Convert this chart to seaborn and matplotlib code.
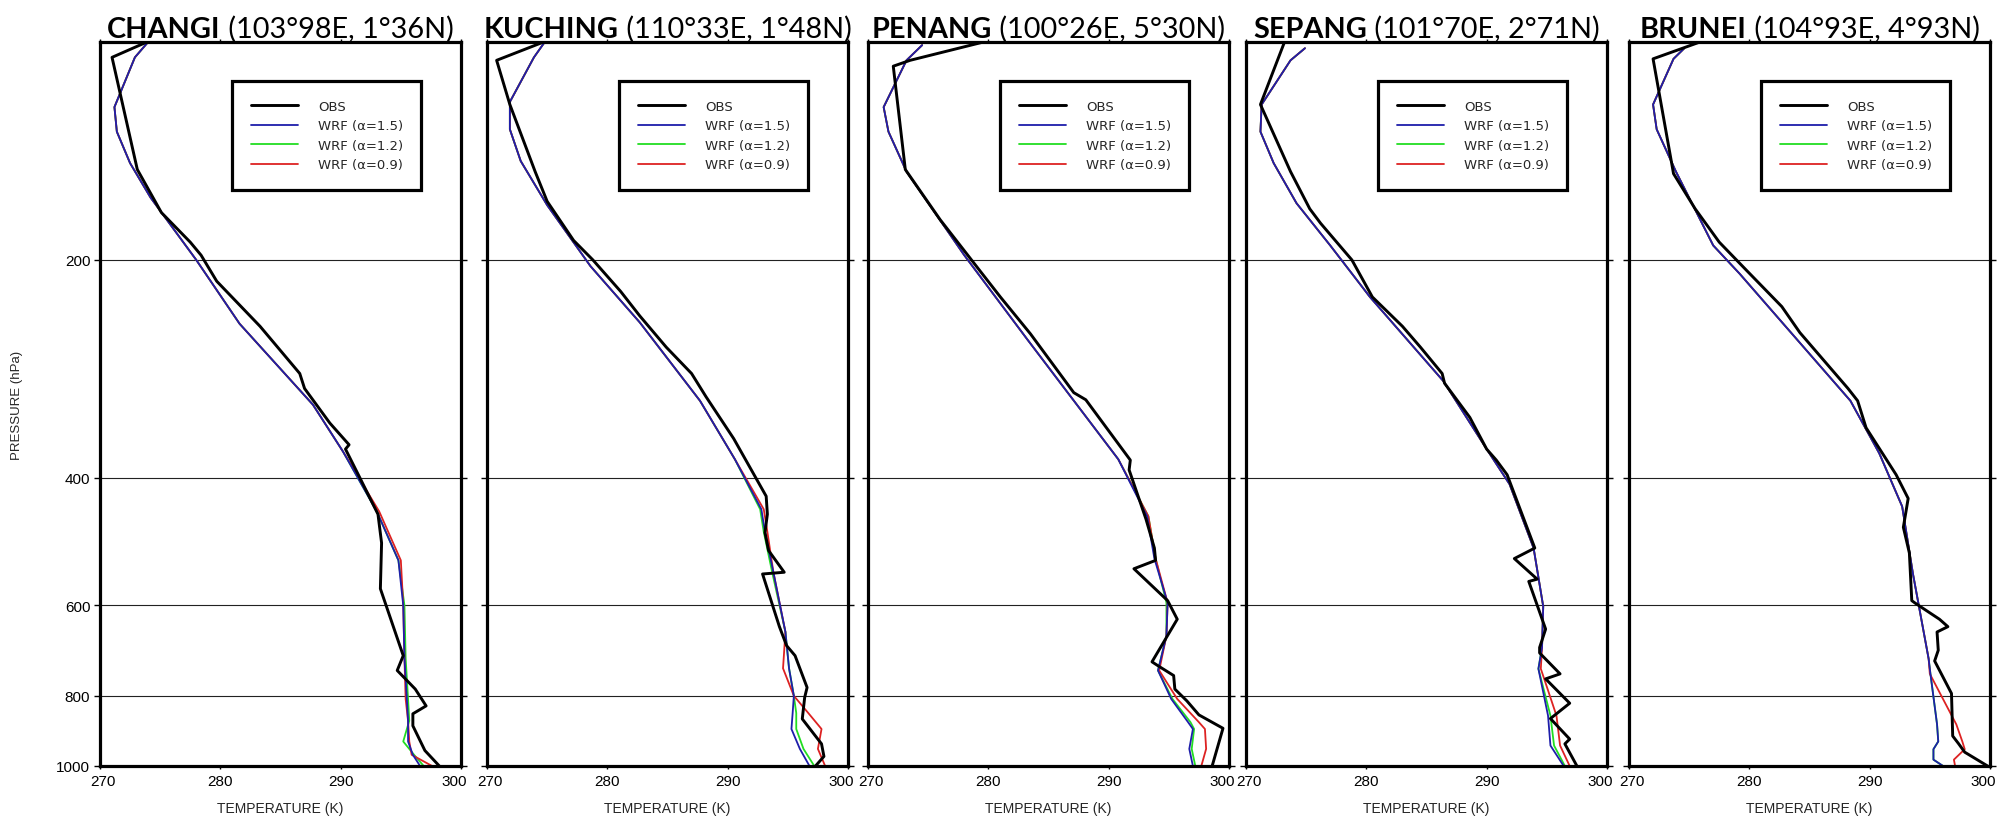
import matplotlib
matplotlib.use("Agg")
import matplotlib.pyplot as plt
import matplotlib.transforms as mtransforms
import seaborn as sns
from matplotlib.ticker import NullLocator
from matplotlib.offsetbox import TextArea, HPacker, AnchoredOffsetbox

# ------------------ Station info ------------------
stations = ["CHANGI", "KUCHING", "PENANG", "SEPANG", "BRUNEI"]
coords = ["(103°98E, 1°36N)", "(110°33E, 1°48N)", "(100°26E, 5°30N)",
          "(101°70E, 2°71N)", "(104°93E, 4°93N)"]

# ------------------ CHANGI ------------------
changi_obs_p = [100, 105, 150, 172, 189, 197, 214, 247, 287, 301, 336, 360, 365, 400, 449, 492,
                569, 704, 738, 783, 826, 847, 880, 952, 1000]
changi_obs_t = [273.9, 271.0, 273.1, 275.1, 277.5, 278.4, 279.7, 283.3, 286.6, 287.0, 289.1, 290.7,
                290.4, 291.6, 293.1, 293.4, 293.3, 295.2, 294.7, 296.2, 297.1, 296.0, 296.0, 297.0, 298.2]
changi_wrf_p = [100, 105, 123, 133, 147, 164, 200, 245, 317, 368, 445, 520, 600, 710, 808, 866,
                925, 965, 1000]
changi_wrf15 = [274.0, 272.9, 271.2, 271.4, 272.5, 274.2, 278.0, 281.6, 287.7, 290.2, 293.0, 294.8,
                295.2, 295.3, 295.5, 295.6, 295.6, 296.0, 296.6]
changi_wrf12 = [274.0, 272.9, 271.2, 271.4, 272.5, 274.2, 278.0, 281.6, 287.7, 290.2, 293.0, 294.8,
                295.3, 295.4, 295.6, 295.7, 295.2, 296.1, 296.9]
changi_wrf09 = [274.0, 272.9, 271.2, 271.4, 272.5, 274.2, 278.0, 281.6, 287.7, 290.2, 293.2, 295.0,
                295.2, 295.3, 295.4, 295.6, 295.7, 295.9, 297.6]

# ------------------ KUCHING ------------------
kuching_obs_p = [100, 106, 122, 151, 166, 188, 200, 221, 239, 264, 287, 309, 353, 424, 449, 476,
                 504, 540, 543, 642, 682, 704, 779, 804, 861, 932, 970, 1000]
kuching_obs_t = [274.7, 270.8, 271.9, 274.0, 275.0, 277.2, 278.8, 281.1, 282.7, 284.9, 287.0, 288.2,
                 290.5, 293.2, 293.3, 293.1, 293.4, 294.7, 292.9, 294.3, 294.9, 295.6, 296.6, 296.4,
                 296.2, 297.8, 298.0, 297.3]
kuching_wrf_p = [100, 105, 121, 132, 146, 168, 204, 244, 313, 377, 442, 475, 540, 653, 733, 800,
                 845, 889, 947, 1000]
kuching_wrf15 = [274.8, 273.9, 271.9, 271.9, 272.8, 275.0, 278.6, 282.7, 287.7, 290.6, 292.8, 293.1,
                 293.8, 294.8, 295.1, 295.5, 295.4, 295.3, 296.0, 296.8]
kuching_wrf12 = [274.8, 273.9, 271.9, 271.9, 272.8, 275.0, 278.6, 282.7, 287.7, 290.6, 292.7, 293.0,
                 293.7, 294.8, 295.1, 295.5, 295.7, 295.7, 296.3, 297.2]
kuching_wrf09 = [274.8, 273.9, 271.9, 271.9, 272.8, 275.0, 278.6, 282.7, 287.7, 290.6, 293.0, 293.3,
                 293.8, 294.8, 294.6, 295.5, 296.7, 297.8, 297.5, 298.1]

# ------------------ PENANG ------------------
penang_obs_p = [100, 106, 108, 150, 176, 207, 225, 253, 305, 312, 378, 390, 456, 500, 520, 534,
                591, 627, 718, 727, 750, 783, 813, 850, 887, 1000]
penang_obs_t = [279.6, 273.5, 272.1, 273.1, 276.0, 279.3, 281.0, 283.5, 287.1, 288.1, 291.8, 291.7,
                293.1, 293.8, 293.9, 292.1, 294.9, 295.7, 293.6, 294.1, 295.4, 295.5, 296.5, 297.5,
                299.5, 298.6]
penang_wrf_p = [101, 106, 123, 133, 151, 197, 257, 377, 452, 517, 595, 661, 738, 808, 870, 889,
                947, 1000]
penang_wrf15 = [274.5, 273.2, 271.3, 271.7, 273.2, 278.0, 283.2, 290.8, 293.2, 293.8, 294.9, 294.8,
                294.1, 295.2, 296.6, 297.0, 296.7, 297.0]
penang_wrf12 = [274.5, 273.2, 271.3, 271.7, 273.2, 278.0, 283.2, 290.8, 293.3, 293.9, 294.8, 294.8,
                294.1, 295.3, 296.8, 297.1, 296.9, 297.2]
penang_wrf09 = [274.5, 273.2, 271.3, 271.7, 273.2, 278.0, 283.2, 290.8, 293.3, 293.9, 294.9, 294.8,
                294.2, 295.7, 297.5, 298.0, 298.1, 297.7]

# ------------------ SEPANG ------------------
sepang_obs_p = [100, 122, 151, 170, 178, 200, 225, 247, 264, 287, 296, 330, 365, 378, 396, 500,
                517, 552, 556, 647, 686, 698, 746, 758, 819, 860, 918, 932, 1000]
sepang_obs_t = [273.2, 271.2, 273.7, 275.3, 276.2, 278.8, 280.5, 283.0, 284.5, 286.3, 286.5, 288.6,
                290.0, 290.8, 291.7, 294.0, 292.3, 294.2, 293.5, 294.9, 294.4, 294.4, 296.1, 294.9,
                296.9, 295.3, 296.9, 296.5, 297.5]
sepang_wrf_p = [102, 106, 122, 133, 147, 167, 191, 225, 294, 365, 408, 500, 602, 686, 734, 852,
                937, 1000]
sepang_wrf15 = [274.9, 273.7, 271.3, 271.2, 272.3, 274.2, 277.0, 280.3, 286.4, 290.0, 291.9, 293.9,
                294.7, 294.6, 294.3, 295.1, 295.3, 296.4]
sepang_wrf12 = [274.9, 273.7, 271.3, 271.2, 272.3, 274.2, 277.0, 280.3, 286.4, 290.0, 291.9, 293.9,
                294.7, 294.6, 294.3, 295.3, 295.6, 296.5]
sepang_wrf09 = [274.9, 273.7, 271.3, 271.2, 272.3, 274.2, 277.0, 280.3, 286.4, 290.0, 291.9, 293.9,
                294.7, 294.6, 294.5, 295.8, 296.1, 296.9]

# ------------------ BRUNEI ------------------
brunei_obs_p = [100, 105.5, 152, 170, 189, 207, 232, 252, 301, 313, 341, 396, 427, 468, 508, 591,
                596, 627, 642, 653, 692, 716, 794, 909, 932, 957, 1000]
brunei_obs_t = [275.9, 272.0, 273.7, 275.5, 277.5, 279.8, 282.7, 284.2, 288.2, 289.0, 289.7, 292.2,
                293.2, 292.8, 293.3, 293.5, 293.8, 295.8, 296.5, 295.6, 295.7, 295.4, 296.8, 296.9,
                297.4, 297.9, 299.8]
brunei_wrf_p = [102, 105.5, 122, 132, 151, 191, 209, 313, 370, 438, 543, 711, 746, 876, 925, 948,
                980, 1000]
brunei_wrf15 = [274.6, 273.7, 272.0, 272.3, 273.9, 277.0, 279.2, 288.4, 290.8, 292.7, 293.6, 294.9,
                295.05, 295.6, 295.7, 295.3, 295.3, 296.1]
brunei_wrf12 = [274.6, 273.7, 272.0, 272.3, 273.9, 277.0, 279.2, 288.4, 290.8, 292.7, 293.6, 294.9,
                295.05, 295.6, 295.7, 295.3, 295.3, 296.1]
brunei_wrf09 = [274.6, 273.7, 272.0, 272.3, 273.9, 277.0, 279.2, 288.4, 290.8, 292.7, 293.6, 294.9,
                295.0, 297.2, 297.7, 297.9, 297.0, 297.1]

obs_p = [changi_obs_p, kuching_obs_p, penang_obs_p, sepang_obs_p, brunei_obs_p]
obs_t = [changi_obs_t, kuching_obs_t, penang_obs_t, sepang_obs_t, brunei_obs_t]
wrf_p = [changi_wrf_p, kuching_wrf_p, penang_wrf_p, sepang_wrf_p, brunei_wrf_p]
wrf15 = [changi_wrf15, kuching_wrf15, penang_wrf15, sepang_wrf15, brunei_wrf15]
wrf12 = [changi_wrf12, kuching_wrf12, penang_wrf12, sepang_wrf12, brunei_wrf12]
wrf09 = [changi_wrf09, kuching_wrf09, penang_wrf09, sepang_wrf09, brunei_wrf09]

p_ticks = [200, 400, 600, 800, 1000]
t_ticks = [270, 280, 290, 300]

# ------------------ Plot ------------------
sns.set_theme(style="white")
plt.rcParams['font.family'] = ['Liberation Sans', 'DejaVu Sans']

BLUE = "#1e1eaa"
GREEN = "#22dd22"
RED = "#dd2222"

fig = plt.figure(figsize=(20.01, 8.2), dpi=100)
lefts = [100, 487, 868, 1246, 1629]

for i in range(5):
    ax = fig.add_axes([lefts[i] / 2001, 53 / 820, 361 / 2001, 724 / 820])

    sns.lineplot(x=wrf12[i], y=wrf_p[i], sort=False, estimator=None, ax=ax,
                 color=GREEN, lw=1.3, label="WRF (α=1.2)")
    sns.lineplot(x=wrf09[i], y=wrf_p[i], sort=False, estimator=None, ax=ax,
                 color=RED, lw=1.3, label="WRF (α=0.9)")
    sns.lineplot(x=wrf15[i], y=wrf_p[i], sort=False, estimator=None, ax=ax,
                 color=BLUE, lw=1.3, label="WRF (α=1.5)")
    sns.lineplot(x=obs_t[i], y=obs_p[i], sort=False, estimator=None, ax=ax,
                 color="black", lw=2.1, label="OBS")

    ax.set_yscale('log')
    ax.set_ylim(1000, 100)
    ax.set_xlim(270, 300)
    ax.yaxis.set_minor_locator(NullLocator())
    ax.set_yticks(p_ticks)
    if i == 0:
        ax.set_yticklabels([str(p) for p in p_ticks])
    else:
        ax.set_yticklabels([])
    ax.set_xticks(t_ticks)
    ax.set_xticklabels([str(t) for t in t_ticks])
    ax.yaxis.grid(True, color="#222222", lw=0.8)
    ax.xaxis.grid(False)
    ax.tick_params(axis='y', left=True, right=True, direction='out', length=4,
                   width=1.0, pad=3, labelsize=11, colors='black')
    ax.tick_params(axis='x', bottom=True, top=True, direction='out', length=2,
                   width=1.0, pad=4, labelsize=11, colors='black')
    for s in ax.spines.values():
        s.set_color('black')
        s.set_linewidth(2.3)
    ax.set_xlabel("TEMPERATURE (K)", fontsize=10, labelpad=9)
    ax.set_ylabel("")

    # nudge the end labels inward so neighbouring panels don't collide
    xlabels = ax.get_xticklabels()
    xlabels[0].set_transform(xlabels[0].get_transform() +
                             mtransforms.ScaledTranslation(3 / 100, 0, fig.dpi_scale_trans))
    xlabels[-1].set_transform(xlabels[-1].get_transform() +
                              mtransforms.ScaledTranslation(-7 / 100, 0, fig.dpi_scale_trans))

    h, l = ax.get_legend_handles_labels()
    order = [l.index(k) for k in ["OBS", "WRF (α=1.5)", "WRF (α=1.2)", "WRF (α=0.9)"]]
    leg = ax.legend([h[k] for k in order], [l[k] for k in order],
                    loc='upper left', bbox_to_anchor=(0.366, 0.946), borderaxespad=0,
                    prop=dict(family='DejaVu Sans', size=9.5),
                    handlelength=3.6, handletextpad=1.5, labelspacing=0.5,
                    borderpad=1.4, frameon=True, fancybox=False, framealpha=1)
    leg.get_frame().set_edgecolor('black')
    leg.get_frame().set_linewidth(2.3)

    # title: bold station name + regular coordinates
    t1 = TextArea(stations[i], textprops=dict(family='Lato', weight='bold', size=20.8, color='black'))
    t2 = TextArea(" " + coords[i], textprops=dict(family='Lato', size=20.8, color='black'))
    box = HPacker(children=[t1, t2], align='baseline', pad=0, sep=0)
    anc = AnchoredOffsetbox(loc='lower center', child=box, pad=0, borderpad=0, frameon=False,
                            bbox_to_anchor=(0.5, 1.0), bbox_transform=ax.transAxes)
    ax.add_artist(anc)

fig.text(17 / 2001, 1 - 405 / 820, "PRESSURE (hPa)", rotation=90, ha='center', va='center',
         fontsize=9.5)

fig.savefig("out.png", dpi=100)
